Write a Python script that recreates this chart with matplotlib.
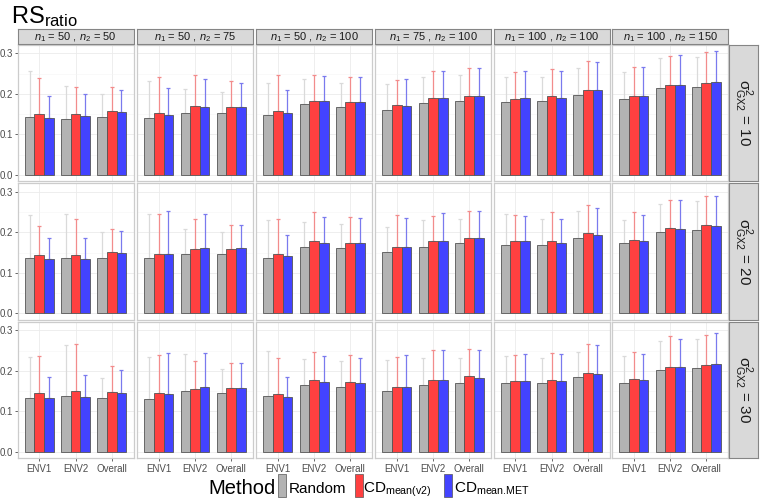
import matplotlib
matplotlib.use("Agg")
import matplotlib.pyplot as plt
from matplotlib.patches import Rectangle
import numpy as np

plt.rcParams['font.family'] = ['Liberation Sans', 'DejaVu Sans']
plt.rcParams['mathtext.fontset'] = 'custom'
plt.rcParams['mathtext.rm'] = 'Liberation Sans'
plt.rcParams['mathtext.it'] = 'Liberation Sans:italic'
plt.rcParams['mathtext.default'] = 'regular'

# ---------------- data ----------------
environments = ["ENV1", "ENV2", "Overall"]
methods = ["Random", "CD$_{mean(v2)}$", "CD$_{\\text{mean.MET}}$"]
sample_labels = ["$\\it{n}_1$ = 50 , $\\it{n}_2$ = 50", "$\\it{n}_1$ = 50 , $\\it{n}_2$ = 75",
                 "$\\it{n}_1$ = 50 , $\\it{n}_2$ = 100", "$\\it{n}_1$ = 75 , $\\it{n}_2$ = 100",
                 "$\\it{n}_1$ = 100 , $\\it{n}_2$ = 100", "$\\it{n}_1$ = 100 , $\\it{n}_2$ = 150"]
sigma_labels = ["$\\sigma^2_{GX2}$ = 10", "$\\sigma^2_{GX2}$ = 20", "$\\sigma^2_{GX2}$ = 30"]

random_mean = [
    [[0.143, 0.138, 0.143], [0.141, 0.152, 0.153], [0.147, 0.175, 0.168], [0.160, 0.177, 0.182], [0.180, 0.182, 0.197], [0.187, 0.214, 0.218]],
    [[0.136, 0.136, 0.138], [0.136, 0.146, 0.146], [0.136, 0.165, 0.161], [0.151, 0.165, 0.173], [0.170, 0.170, 0.187], [0.173, 0.202, 0.207]],
    [[0.134, 0.139, 0.132], [0.131, 0.150, 0.145], [0.138, 0.165, 0.160], [0.151, 0.165, 0.170], [0.169, 0.170, 0.185], [0.170, 0.202, 0.207]],
]
cdv2_mean = [
    [[0.150, 0.150, 0.157], [0.153, 0.169, 0.167], [0.158, 0.182, 0.179], [0.172, 0.191, 0.196], [0.188, 0.194, 0.210], [0.196, 0.221, 0.226]],
    [[0.144, 0.144, 0.151], [0.147, 0.158, 0.160], [0.146, 0.179, 0.174], [0.165, 0.178, 0.187], [0.178, 0.178, 0.198], [0.182, 0.211, 0.218]],
    [[0.145, 0.151, 0.148], [0.145, 0.156, 0.159], [0.143, 0.177, 0.173], [0.161, 0.178, 0.187], [0.175, 0.177, 0.196], [0.179, 0.209, 0.214]],
]
cdmet_mean = [
    [[0.140, 0.146, 0.155], [0.147, 0.168, 0.167], [0.152, 0.182, 0.180], [0.171, 0.189, 0.196], [0.189, 0.190, 0.209], [0.196, 0.223, 0.229]],
    [[0.135, 0.135, 0.148], [0.147, 0.161, 0.161], [0.141, 0.174, 0.173], [0.163, 0.179, 0.187], [0.178, 0.173, 0.194], [0.179, 0.209, 0.217]],
    [[0.132, 0.135, 0.145], [0.143, 0.161, 0.159], [0.136, 0.173, 0.170], [0.161, 0.178, 0.183], [0.176, 0.174, 0.192], [0.178, 0.209, 0.218]],
]
random_upper = [
    [[0.256, 0.219, 0.200], [0.233, 0.211, 0.206], [0.226, 0.238, 0.226], [0.224, 0.241, 0.246], [0.243, 0.243, 0.263], [0.254, 0.288, 0.291]],
    [[0.243, 0.246, 0.200], [0.246, 0.209, 0.202], [0.230, 0.225, 0.221], [0.213, 0.231, 0.234], [0.246, 0.233, 0.252], [0.231, 0.270, 0.277]],
    [[0.234, 0.263, 0.183], [0.234, 0.243, 0.204], [0.249, 0.229, 0.224], [0.228, 0.231, 0.232], [0.236, 0.233, 0.248], [0.236, 0.273, 0.278]],
]
cdv2_upper = [
    [[0.239, 0.218, 0.217], [0.243, 0.246, 0.232], [0.246, 0.246, 0.242], [0.234, 0.256, 0.263], [0.254, 0.261, 0.281], [0.266, 0.293, 0.303]],
    [[0.217, 0.234, 0.208], [0.246, 0.233, 0.219], [0.233, 0.251, 0.238], [0.242, 0.241, 0.252], [0.243, 0.251, 0.268], [0.251, 0.281, 0.291]],
    [[0.236, 0.267, 0.211], [0.239, 0.224, 0.219], [0.231, 0.246, 0.239], [0.235, 0.251, 0.255], [0.239, 0.245, 0.266], [0.246, 0.286, 0.289]],
]
cdmet_upper = [
    [[0.195, 0.200, 0.210], [0.214, 0.236, 0.228], [0.209, 0.245, 0.243], [0.238, 0.256, 0.263], [0.257, 0.256, 0.279], [0.266, 0.296, 0.306]],
    [[0.187, 0.187, 0.204], [0.252, 0.246, 0.219], [0.194, 0.237, 0.235], [0.235, 0.247, 0.252], [0.241, 0.233, 0.260], [0.243, 0.280, 0.289]],
    [[0.184, 0.190, 0.202], [0.245, 0.245, 0.220], [0.185, 0.236, 0.231], [0.240, 0.251, 0.252], [0.241, 0.241, 0.263], [0.242, 0.278, 0.293]],
]

means = [np.array(random_mean), np.array(cdv2_mean), np.array(cdmet_mean)]
uppers = [np.array(random_upper), np.array(cdv2_upper), np.array(cdmet_upper)]

bar_colors = ["#B3B3B3", "#FF4040", "#4343FF"]
err_colors = ["#DADADA", "#F28C8C", "#7A7AEE"]

# ---------------- layout ----------------
W, H = 760, 498
fig = plt.figure(figsize=(W / 100, H / 100), dpi=100)

def fx(px):
    return px / W

def fy(py):
    return 1 - py / H

col_left = [17.5, 137, 256, 375, 493.5, 612]
panel_w = 116
row_top = [45, 183.5, 322]
panel_h = 136

ylim = (-0.0153, 0.321)
x = np.arange(1, 4)
bw = 0.8 / 3

for r in range(3):
    for c in range(6):
        ax = fig.add_axes([fx(col_left[c]), fy(row_top[r] + panel_h), panel_w / W, panel_h / H])
        ax.set_xlim(0.4, 3.6)
        ax.set_ylim(*ylim)
        ax.set_yticks([0.0, 0.1, 0.2, 0.3])
        ax.set_yticks([0.05, 0.15, 0.25], minor=True)
        ax.set_xticks(x)
        ax.grid(True, which='major', color="#EBEBEB", lw=0.6, zorder=0)
        ax.grid(True, which='minor', axis='y', color="#F5F5F5", lw=0.4, zorder=0)
        ax.set_axisbelow(True)
        for s in ax.spines.values():
            s.set_color("#CCCCCC")
            s.set_linewidth(0.9)
        for m in range(3):
            xs = x + (m - 1) * bw
            mv = means[m][r, c]
            up = uppers[m][r, c]
            ax.errorbar(xs, mv, yerr=[np.zeros(3), up - mv], fmt='none',
                        ecolor=err_colors[m], elinewidth=0.9, capsize=1.3,
                        capthick=0.9, zorder=2)
            ax.bar(xs, mv, width=bw, color=bar_colors[m], edgecolor="#555555",
                   linewidth=0.6, zorder=3)
        ax.tick_params(axis='both', which='both', length=0, colors="#4D4D4D")
        ax.tick_params(axis='y', which='major', length=2.2, width=0.6, color="#4D4D4D", pad=0.8)
        if c == 0:
            ax.set_yticklabels(["0.0", "0.1", "0.2", "0.3"], fontsize=7, color="#4D4D4D")
        else:
            ax.tick_params(axis='y', which='major', length=0)
            ax.set_yticklabels([])
        if r == 2:
            ax.tick_params(axis='x', which='major', length=2.5, width=0.6, pad=2)
            ax.set_xticklabels(environments, fontsize=7, color="#4D4D4D")
        else:
            ax.set_xticklabels([])
        # top strip
        if r == 0:
            sax = fig.add_axes([fx(col_left[c]), fy(44), panel_w / W, 14.5 / H])
            sax.set_facecolor("#D9D9D9")
            sax.set_xticks([]); sax.set_yticks([])
            for s in sax.spines.values():
                s.set_color("#858585"); s.set_linewidth(0.8)
            sax.text(0.5, 0.5, sample_labels[c], ha='center', va='center',
                     fontsize=8, color="#1A1A1A", transform=sax.transAxes)
        # right strip
        if c == 5:
            rax = fig.add_axes([fx(729), fy(row_top[r] + panel_h), 29 / W, panel_h / H])
            rax.set_facecolor("#D9D9D9")
            rax.set_xticks([]); rax.set_yticks([])
            for s in rax.spines.values():
                s.set_color("#858585"); s.set_linewidth(0.8)
            rax.text(0.5, 0.5, sigma_labels[r], ha='center', va='center',
                     rotation=-90, fontsize=11, color="#1A1A1A", transform=rax.transAxes)

# title
fig.text(fx(11), fy(23), "RS$_{ratio}$", fontsize=17, ha='left', va='baseline', color="black")

# legend (manual)
fig.text(fx(208), fy(494), "Method", fontsize=14.5, ha='left', va='baseline')
legend_items = [(278, 289, "Random"), (355, 363, methods[1]), (444, 454, methods[2])]
for (kx, tx, lab), col in zip(legend_items, bar_colors):
    fig.add_artist(Rectangle((fx(kx), fy(497)), 8 / W, 23 / H, transform=fig.transFigure,
                             facecolor=col, edgecolor="#555555", linewidth=0.5))
    fig.text(fx(tx), fy(493), lab, fontsize=11, ha='left', va='baseline')

fig.savefig("out.png", dpi=100)
